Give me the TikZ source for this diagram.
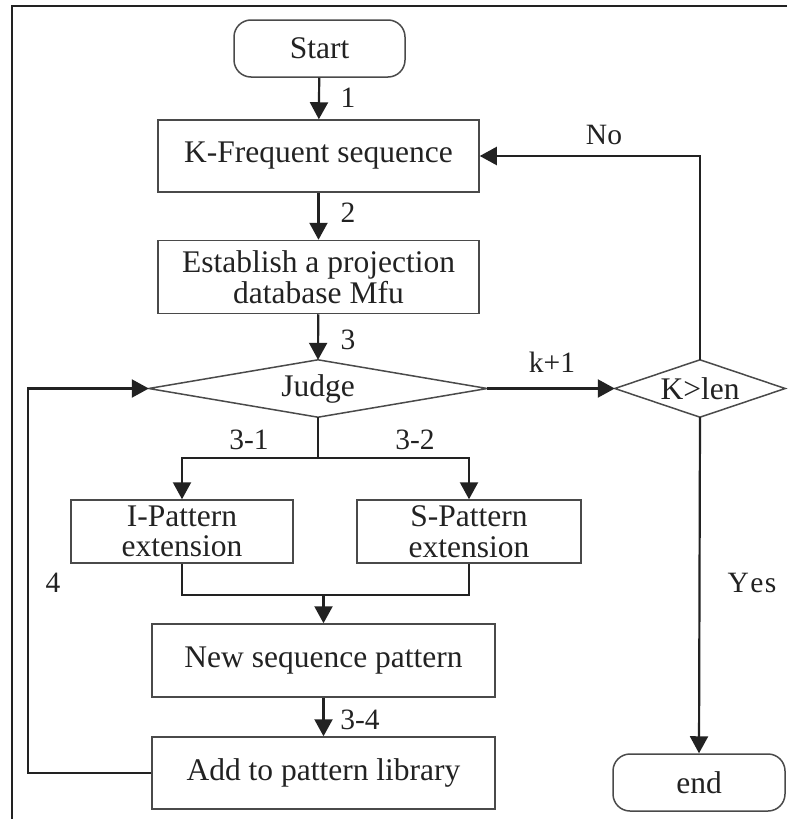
\documentclass[tikz,border=0pt]{standalone}
\usepackage{fontspec}
\setmainfont{Liberation Serif}
\usetikzlibrary{arrows.meta}
\definecolor{ink}{HTML}{222222}
\definecolor{edge}{HTML}{4A4A4A}
\begin{document}
\begin{tikzpicture}[x=1pt,y=-1pt,
  every node/.style={text=ink},
  txt/.style={font=\fontsize{31.5}{30.5}\selectfont},
  lbl/.style={font=\fontsize{29.5}{30}\selectfont, inner sep=0pt},
  procbox/.style={draw=edge, line width=1.5pt, rectangle, inner sep=0pt, align=center, txt},
  termbox/.style={procbox, rounded corners=17pt},
  decbox/.style={rectangle, inner sep=0pt, txt},
  link/.style={draw=ink, line width=2.2pt},
  flow/.style={link, -{Triangle[length=17pt,width=18pt]}}
]
\useasboundingbox (0,0) rectangle (787,819);
% frame lines
\draw[draw=ink, line width=1.6pt] (787,6) -- (12,6) -- (12,819);

% nodes
\node[termbox, minimum width=171, minimum height=57] (start) at (319.5,48.5) {Start};
\node[procbox, minimum width=321, minimum height=72] (kf) at (318.5,156) {K-Frequent sequence};
\node[procbox, minimum width=321, minimum height=73] (est) at (318.5,277) {Establish a projection\\database Mfu};
\node[decbox, minimum width=338, minimum height=57] (judge) at (318,388.5) {Judge};
\draw[draw=edge, line width=1.5pt] (judge.west) -- (judge.north) -- (judge.east) -- (judge.south) -- cycle;
\node[decbox, minimum width=170, minimum height=57] (klen) at (700,388.5) {K>len};
\draw[draw=edge, line width=1.5pt] (klen.west) -- (klen.north) -- (klen.east) -- (klen.south) -- cycle;
\node[procbox, minimum width=222, minimum height=63] (ipat) at (182,531.5) {I-Pattern\\extension};
\node[procbox, minimum width=224, minimum height=63] (spat) at (469,531.5) {S-Pattern\\extension};
\node[procbox, minimum width=343, minimum height=73] (newp) at (323.5,660.5) {New sequence pattern};
\node[procbox, minimum width=343, minimum height=72] (addp) at (323.5,773) {Add to pattern library};
\node[termbox, minimum width=172, minimum height=57] (fin) at (699,782.5) {end};

\coordinate (split) at (318,458);
\coordinate (merge) at (323.5,595);
\coordinate (back) at (28,773);

% connectors
\draw[flow] (start) -- (kf);
\draw[flow] (kf) -- (est);
\draw[flow] (est) -- (judge.north);
\draw[link] (judge.south) -- (split);
\draw[flow] (split) -| (ipat.north);
\draw[flow] (split) -| (spat.north);
\draw[link] (ipat.south) |- (merge);
\draw[link] (spat.south) |- (merge);
\draw[flow] (merge) -- (newp);
\draw[flow] (newp) -- (addp);
\draw[flow] (addp.west) -- (back) |- (judge.west);
\draw[flow] (judge.east) -- (klen.west);
\draw[flow] (klen.north) |- (kf.east);
\draw[flow] (klen.south) -- (fin.north);

% labels
\node[lbl] (l1) at (348,98) {1};
\node[lbl] (l2) at (348,213) {2};
\node[lbl] (l3) at (348,340) {3};
\node[lbl] (l31) at (249,440) {3-1};
\node[lbl] (l32) at (415,440) {3-2};
\node[lbl] (l34) at (360,720) {3-4};
\node[lbl] (l4) at (53,583) {4};
\node[lbl] (lk) at (552,362) {k+1};
\node[lbl] (lno) at (604,135) {No};
\node[lbl] (lyes) at (752,583) {Y\kern1.5pt e\kern1.5pt s};
\end{tikzpicture}
\end{document}
